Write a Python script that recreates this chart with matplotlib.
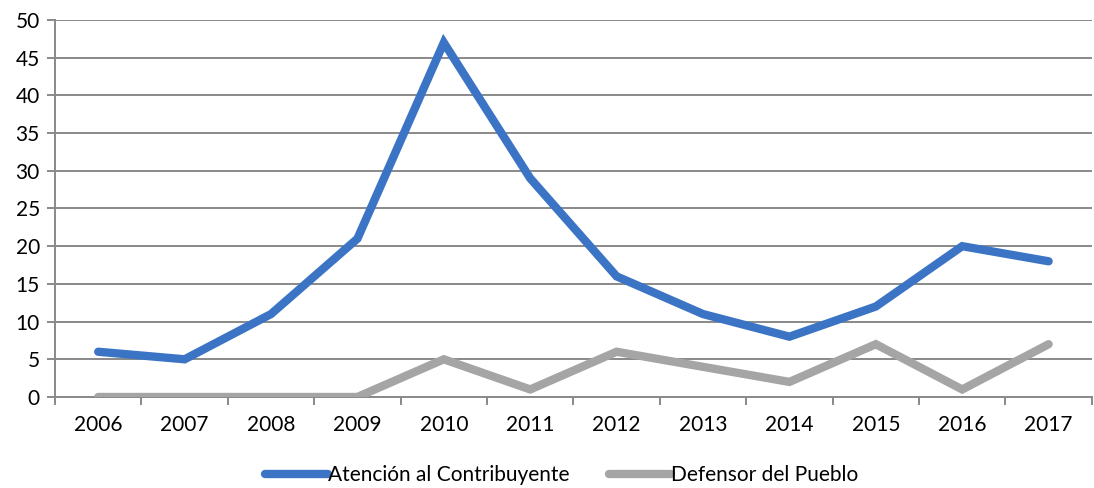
import matplotlib
matplotlib.use("Agg")
import matplotlib.pyplot as plt
import numpy as np

plt.rcParams["font.family"] = ["Lato", "DejaVu Sans"]

YEARS = ["2006", "2007", "2008", "2009", "2010", "2011",
         "2012", "2013", "2014", "2015", "2016", "2017"]
ATENCION = [6, 5, 11, 21, 47, 29, 16, 11, 8, 12, 20, 18]
DEFENSOR = [0, 0, 0, 0, 5, 1, 6, 4, 2, 7, 1, 7]

BLUE = "#3C74C5"
GRAY_LINE = "#A5A5A5"
AXIS_GRAY = "#898989"

fig = plt.figure(figsize=(10.94, 4.88), dpi=100)
ax = fig.add_axes([0.0503, 0.1865, 0.9477, 0.7725])

x = np.arange(len(YEARS))
ax.plot(x, ATENCION, color=BLUE, linewidth=6.0, solid_capstyle="round",
        solid_joinstyle="miter", label="Atención al Contribuyente", zorder=3)
ax.plot(x, DEFENSOR, color=GRAY_LINE, linewidth=6.0, solid_capstyle="round",
        solid_joinstyle="miter", label="Defensor del Pueblo", zorder=3)

ax.set_xlim(-0.5, len(YEARS) - 0.5)
ax.set_ylim(0, 50)
ax.set_yticks(np.arange(0, 51, 5))
ax.set_xticks(x)
ax.set_xticklabels(YEARS)
ax.set_xticks(np.arange(-0.5, len(YEARS), 1.0), minor=True)

ax.grid(axis="y", color=AXIS_GRAY, linewidth=1.4, zorder=1)
ax.set_axisbelow(True)

for side in ("top", "right"):
    ax.spines[side].set_visible(False)
for side in ("left", "bottom"):
    ax.spines[side].set_color(AXIS_GRAY)
    ax.spines[side].set_linewidth(1.4)

ax.tick_params(axis="y", length=6, width=1.4, color=AXIS_GRAY,
               labelsize=15, pad=5)
ax.tick_params(axis="x", which="major", length=0, labelsize=15, pad=13)
ax.tick_params(axis="x", which="minor", length=6, width=1.4, color=AXIS_GRAY)

ax.legend(loc="center", bbox_to_anchor=(0.489, -0.207),
          ncol=2, frameon=False, fontsize=15, handlelength=3.0,
          handletextpad=0.0, columnspacing=1.9, bbox_transform=ax.transAxes)

fig.savefig("out.png", dpi=100)
